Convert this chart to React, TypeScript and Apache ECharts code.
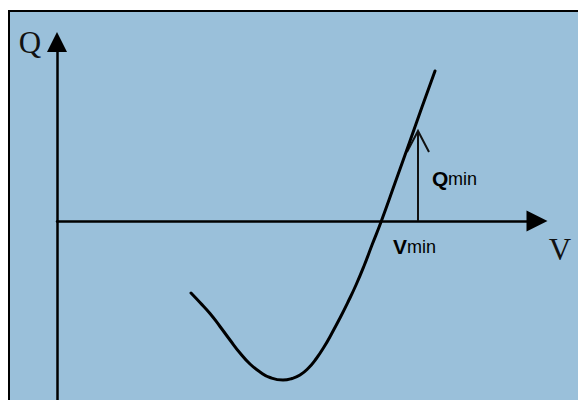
import React, { useEffect, useRef } from "react";
import * as echarts from "echarts";

// Curve of Q versus V (axis units: x right from the Q axis, y up from the V axis)
const curveV = [134, 143, 153, 163, 173, 183, 193, 203, 213, 226, 235, 243, 251, 259, 267, 275, 283, 291, 299, 307, 315, 324, 338, 353, 365, 378];
const curveQ = [-72, -81.5, -92.5, -105.5, -119, -132, -143, -151, -156.5, -159, -157.5, -154, -147.5, -138, -126, -112, -97, -81, -64, -45, -24, -1, 38, 80, 114, 150];

// Qmin arrow at V = Vmin
const shaftV = [361, 361];
const shaftQ = [0, 90];
const headV = [350, 361, 372];
const headQ = [69, 90, 69];

const axisLabels = ["Q", "V"];
const subLabels = ["Q", "V"];
const subText = "min";

const BG = "#9AC0DA";

export default function App() {
  const ref = useRef<HTMLDivElement>(null);
  useEffect(() => {
    if (!ref.current) return;
    const chart = echarts.init(ref.current, null, { renderer: "svg" });
    const zip = (a: number[], b: number[]) => a.map((v, i) => [v, b[i]]);
    const serif = '"Liberation Serif", "Times New Roman", serif';
    const sans = '"Liberation Sans", Arial, sans-serif';
    chart.setOption({
      animation: false,
      backgroundColor: "#ffffff",
      grid: { left: 57, right: 41, top: 42, bottom: 0, containLabel: false },
      xAxis: {
        type: "value",
        min: 0,
        max: 480,
        axisLine: {
          show: true,
          onZero: true,
          symbol: ["none", "triangle"],
          symbolSize: [21, 21],
          lineStyle: { color: "#000", width: 2.5 },
        },
        axisTick: { show: false },
        axisLabel: { show: false },
        splitLine: { show: false },
      },
      yAxis: {
        type: "value",
        min: -179,
        max: 179,
        axisLine: {
          show: true,
          onZero: true,
          symbol: ["none", "triangle"],
          symbolSize: [20, 20],
          lineStyle: { color: "#000", width: 2.5 },
        },
        axisTick: { show: false },
        axisLabel: { show: false },
        splitLine: { show: false },
      },
      graphic: [
        {
          type: "rect",
          z: -10,
          shape: { x: 9, y: 11, width: 620, height: 420 },
          style: { fill: BG, stroke: "#000", lineWidth: 2 },
          silent: true,
        },
        {
          type: "text",
          x: 30,
          y: 42,
          style: {
            text: axisLabels[0],
            font: `31px ${serif}`,
            fill: "#111",
            align: "center",
            verticalAlign: "middle",
          },
        },
        {
          type: "text",
          x: 560,
          y: 249,
          style: {
            text: axisLabels[1],
            font: `31px ${serif}`,
            fill: "#111",
            align: "center",
            verticalAlign: "middle",
          },
        },
        {
          type: "text",
          x: 432,
          y: 178,
          style: {
            text: subLabels[0],
            font: `bold 21px ${sans}`,
            fill: "#000",
            align: "left",
            verticalAlign: "middle",
          },
        },
        {
          type: "text",
          x: 448,
          y: 179,
          style: {
            text: subText,
            font: `18px ${sans}`,
            fill: "#000",
            align: "left",
            verticalAlign: "middle",
          },
        },
        {
          type: "text",
          x: 393,
          y: 246,
          style: {
            text: subLabels[1],
            font: `bold 21px ${sans}`,
            fill: "#000",
            align: "left",
            verticalAlign: "middle",
          },
        },
        {
          type: "text",
          x: 407,
          y: 247,
          style: {
            text: subText,
            font: `18px ${sans}`,
            fill: "#000",
            align: "left",
            verticalAlign: "middle",
          },
        },
      ],
      series: [
        {
          type: "line",
          data: zip(curveV, curveQ),
          smooth: 0.5,
          showSymbol: false,
          lineStyle: { color: "#000", width: 3, cap: "round", join: "round" },
          silent: true,
          z: 5,
        },
        {
          type: "line",
          data: zip(shaftV, shaftQ),
          showSymbol: false,
          lineStyle: { color: "#111", width: 2 },
          silent: true,
          z: 4,
        },
        {
          type: "line",
          data: zip(headV, headQ),
          showSymbol: false,
          lineStyle: { color: "#111", width: 2, join: "miter" },
          silent: true,
          z: 4,
        },
      ],
    });
    return () => chart.dispose();
  }, []);
  return (
    <div
      ref={ref}
      style={{ position: "fixed", left: 0, top: 0, width: 578, height: 400 }}
    />
  );
}
